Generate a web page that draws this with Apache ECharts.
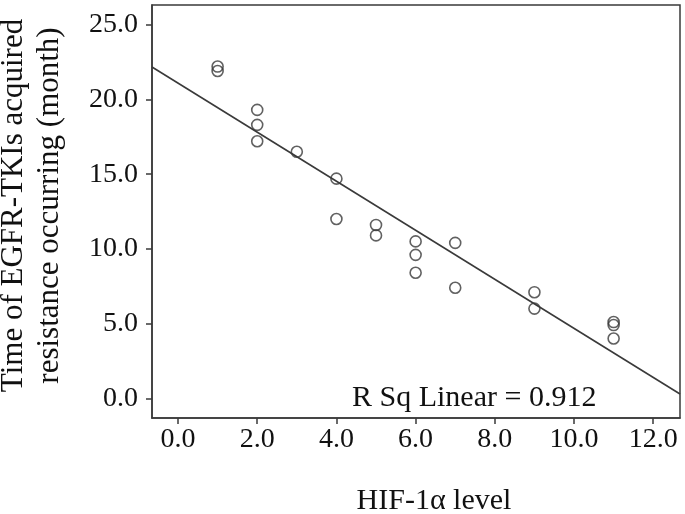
<!DOCTYPE html>
<html>
<head>
<meta charset="utf-8">
<script src="https://cdn.jsdelivr.net/npm/echarts@6/dist/echarts.min.js"></script>
<style>
html,body{margin:0;padding:0;background:#fff;}
#chart{width:685px;height:514px;}
</style>
</head>
<body>
<div id="chart"></div>
<script>
// HIF-1α level (x) vs time of EGFR-TKIs acquired resistance occurring (month) (y)
const hifLevel = [1, 1, 2, 2, 2, 3, 4, 4, 5, 5, 6, 6, 6, 7, 7, 9, 9, 11, 11, 11];
const resistanceMonths = [22.2, 21.9, 19.3, 18.3, 17.2, 16.5, 14.7, 12.0, 11.6, 10.9, 10.5, 9.6, 8.4, 10.4, 7.4, 7.1, 6.0, 5.1, 4.9, 4.0];
const xTicks = [0, 2, 4, 6, 8, 10, 12];
const yTicks = [0, 5, 10, 15, 20, 25];
const xRange = [-0.657, 12.676];
const yRange = [-1.32, 26.32];
const rSqLabel = 'R Sq Linear = 0.912';

// least-squares fit line
const n = hifLevel.length;
const mx = hifLevel.reduce((a, b) => a + b, 0) / n;
const my = resistanceMonths.reduce((a, b) => a + b, 0) / n;
let sxy = 0, sxx = 0;
for (let i = 0; i < n; i++) {
  sxy += (hifLevel[i] - mx) * (resistanceMonths[i] - my);
  sxx += (hifLevel[i] - mx) * (hifLevel[i] - mx);
}
const slope = sxy / sxx;
const intercept = my - slope * mx;
const fitLine = xRange.map(x => [x, intercept + slope * x]);

const FONT = '"Liberation Serif", "Times New Roman", serif';
const INK = '#3a3a3a';

const chart = echarts.init(document.getElementById('chart'), null, {renderer: 'canvas'});
chart.setOption({
  animation: false,
  backgroundColor: '#fff',
  grid: {left: 152, top: 5, right: 5, bottom: 96, outerBoundsMode: 'none', containLabel: false,
    show: true, borderColor: INK, borderWidth: 1.5, backgroundColor: 'transparent'},
  xAxis: {
    type: 'value', min: xRange[0], max: xRange[1],
    name: 'HIF-1α level', nameLocation: 'middle', nameGap: 68,
    nameTextStyle: {fontFamily: FONT, fontSize: 30, color: '#111', padding: [0, 0, 0, 36]},
    axisLine: {show: true, onZero: false, lineStyle: {color: INK, width: 1.5}},
    axisTick: {show: true, length: 6, customValues: xTicks, lineStyle: {color: INK, width: 1.5}},
    axisLabel: {customValues: xTicks, formatter: v => Number(v).toFixed(1), fontFamily: FONT, fontSize: 28, color: '#111', margin: 8},
    splitLine: {show: false}
  },
  yAxis: {
    type: 'value', min: yRange[0], max: yRange[1],
    name: 'Time of EGFR-TKIs acquired\nresistance occurring (month)', nameLocation: 'middle', nameGap: 84, nameRotate: 90,
    nameTextStyle: {fontFamily: FONT, fontSize: 31, color: '#111', lineHeight: 36, padding: [0, 0, 0, 12]},
    axisLine: {show: true, onZero: false, lineStyle: {color: INK, width: 1.5}},
    axisTick: {show: true, length: 6, customValues: yTicks, lineStyle: {color: INK, width: 1.5}},
    axisLabel: {customValues: yTicks, formatter: v => Number(v).toFixed(1), fontFamily: FONT, fontSize: 28, color: '#111', margin: 14},
    splitLine: {show: false}
  },
  series: [
    {
      type: 'line', data: fitLine, showSymbol: false, symbol: 'none',
      lineStyle: {color: INK, width: 1.6}, silent: true, z: 2
    },
    {
      type: 'scatter', data: hifLevel.map((x, i) => [x, resistanceMonths[i]]),
      symbol: 'circle', symbolSize: 11,
      itemStyle: {color: 'rgba(0,0,0,0)', borderColor: INK, borderWidth: 1.6}, z: 3
    }
  ],
  graphic: [{
    type: 'text', left: 352, top: 383,
    style: {text: rSqLabel, font: '30px ' + FONT, fill: '#111'}
  }]
});
</script>
</body>
</html>
